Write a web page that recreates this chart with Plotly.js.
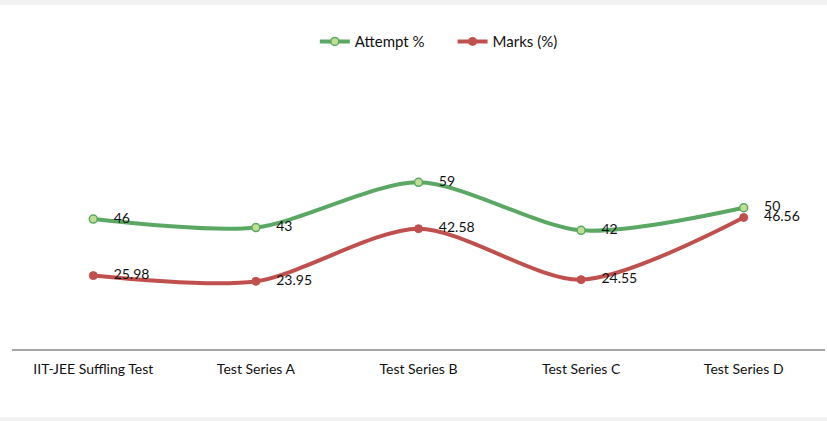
<!DOCTYPE html>
<html><head><meta charset="utf-8">
<script src="https://cdn.plot.ly/plotly-3.0.1.min.js"></script>
<style>
html,body{margin:0;padding:0;background:#f2f2f2;width:827px;height:421px;overflow:hidden}
#chart{position:absolute;left:0;top:5px;width:827px;height:412px;background:#fff}
</style></head><body>
<div id="chart"></div>
<script>
const categories = ["IIT-JEE Suffling Test", "Test Series A", "Test Series B", "Test Series C", "Test Series D"];
const attempt = [46, 43, 59, 42, 50];
const marks = [25.98, 23.95, 42.58, 24.55, 46.56];
const attemptLabels = ["46", "43", "59", "42", "50"];
const marksLabels = ["25.98", "23.95", "42.58", "24.55", "46.56"];

const font = "Lato, 'Open Sans', sans-serif";
const traces = [
  {
    x: categories, y: attempt, name: "Attempt %      ", type: "scatter", mode: "lines+markers+text",
    line: {color: "#5aa864", width: 4, shape: "spline", smoothing: 0.8},
    marker: {size: 8, color: "#c2dd94", line: {color: "#5aa864", width: 1.5}},
    text: attemptLabels.map(t => "    " + t), textposition: "middle right",
    textfont: {family: font, size: 14, color: "#111"}, cliponaxis: false
  },
  {
    x: categories, y: marks, name: "Marks (%)", type: "scatter", mode: "lines+markers+text",
    line: {color: "#c0504d", width: 4, shape: "spline", smoothing: 0.8},
    marker: {size: 8, color: "#c0504d", line: {color: "#c0504d", width: 1}},
    text: marksLabels.map(t => "    " + t), textposition: "middle right",
    textfont: {family: font, size: 14, color: "#111"}, cliponaxis: false
  }
];
const layout = {
  width: 827, height: 412,
  margin: {l: 12, r: 2, t: 118, b: 68},
  paper_bgcolor: "#fff", plot_bgcolor: "#fff",
  showlegend: true,
  legend: {orientation: "h", x: 0.525, xanchor: "center", y: 1.36, yanchor: "middle",
           font: {family: font, size: 15, color: "#111"}, traceorder: "normal"},
  xaxis: {type: "category", range: [-0.5, 4.5], showgrid: false, zeroline: false, showline: true,
          linecolor: "#a6a6a6", linewidth: 2, ticks: "", ticklabelstandoff: 6,
          tickfont: {family: font, size: 14, color: "#111"}, fixedrange: true},
  yaxis: {range: [0, 80], visible: false, showgrid: false, zeroline: false, fixedrange: true},
  hovermode: false
};
Plotly.newPlot("chart", traces, layout, {displayModeBar: false, staticPlot: true});
</script>
</body></html>
